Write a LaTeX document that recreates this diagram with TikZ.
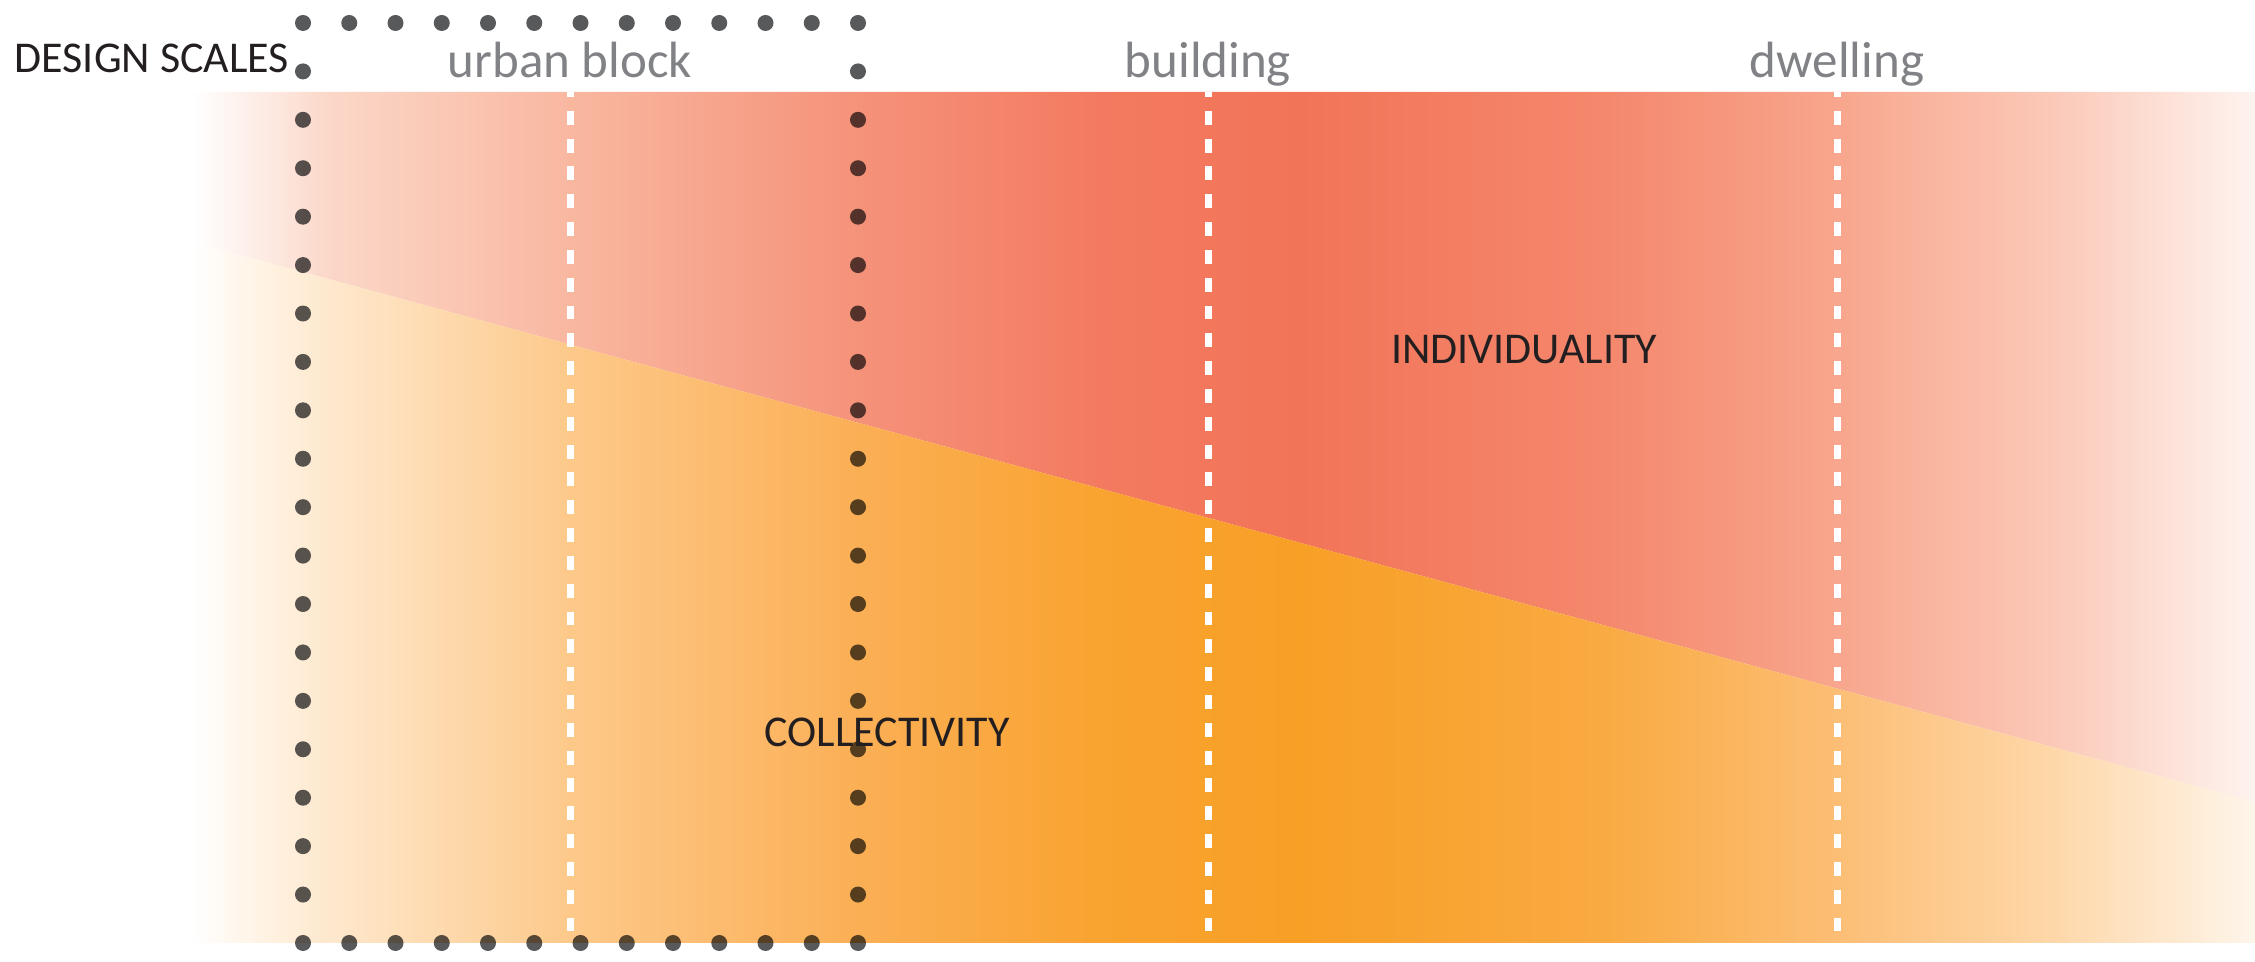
\documentclass[tikz,border=0pt]{standalone}
\usepackage{fontspec}
\setmainfont{Carlito}
\usepackage{tikz}

\definecolor{scalegray}{RGB}{128,130,133}
\definecolor{inkblack}{RGB}{35,31,32}
\definecolor{beadgray}{RGB}{88,89,91}

\definecolor{indA}{RGB}{253,236,229}
\definecolor{indB}{RGB}{251,215,200}
\definecolor{indC}{RGB}{249,183,160}
\definecolor{indD}{RGB}{245,146,122}
\definecolor{indE}{RGB}{243,122,96}
\definecolor{indF}{RGB}{242,116,88}
\definecolor{indG}{RGB}{244,135,108}
\definecolor{indH}{RGB}{248,166,141}
\definecolor{indI}{RGB}{251,200,183}
\definecolor{indJ}{RGB}{254,243,239}

\definecolor{colA}{RGB}{255,243,228}
\definecolor{colB}{RGB}{254,232,205}
\definecolor{colC}{RGB}{253,201,138}
\definecolor{colD}{RGB}{251,175,85}
\definecolor{colE}{RGB}{249,163,48}
\definecolor{colF}{RGB}{248,159,38}
\definecolor{colG}{RGB}{249,170,65}
\definecolor{colH}{RGB}{252,190,117}
\definecolor{colI}{RGB}{254,215,168}
\definecolor{colJ}{RGB}{254,245,234}

\pgfdeclarehorizontalshading{individualfade}{100bp}{color(0bp)=(white); color(25bp)=(white);
  color(26.65bp)=(indA); color(28.34bp)=(indB); color(34.16bp)=(indC); color(41.14bp)=(indD);
  color(47.01bp)=(indE); color(51.85bp)=(indF); color(59.12bp)=(indG); color(64.87bp)=(indH);
  color(70.03bp)=(indI); color(75bp)=(indJ); color(100bp)=(indJ)}
\pgfdeclarehorizontalshading{collectivefade}{100bp}{color(0bp)=(white); color(25bp)=(white);
  color(26.65bp)=(colA); color(28.34bp)=(colB); color(34.16bp)=(colC); color(41.14bp)=(colD);
  color(47.01bp)=(colE); color(51.85bp)=(colF); color(59.12bp)=(colG); color(64.87bp)=(colH);
  color(70.03bp)=(colI); color(75bp)=(colJ); color(100bp)=(colJ)}

\tikzset{
  scale label/.style = {text=scalegray, inner sep=0pt, font=\fontsize{14.5}{17}\selectfont},
  theme label/.style = {text=inkblack, inner sep=0pt, font=\fontsize{12.5}{15}\selectfont},
  scale line/.style = {white, line width=0.07cm, dash pattern=on 0.139cm off 0.139cm, dash phase=0.09cm},
  bead/.style = {fill=beadgray},
}

\begin{document}
\begin{tikzpicture}[x=0.01cm, y=-0.01cm]
\useasboundingbox (0,0) rectangle (2255,962);
\shade[shading=individualfade] (192,92) -- (2255,92) -- (2255,802) -- (192,242) -- cycle;
\shade[shading=collectivefade] (192,242) -- (2255,802) -- (2255,943) -- (192,943) -- cycle;
\foreach \x in {570,1208,1837}
  \draw[scale line] (\x,92) -- (\x,943);
\begin{scope}[blend mode=multiply]
\foreach \i in {0,...,12} {
  \fill[bead] (303+46.25*\i,23) circle[radius=0.08cm];
  \fill[bead] (303+46.25*\i,943) circle[radius=0.08cm];
}
\foreach \j in {1,...,18} {
  \fill[bead] (303,23+48.42*\j) circle[radius=0.08cm];
  \fill[bead] (858,23+48.42*\j) circle[radius=0.08cm];
}
\end{scope}
\node[theme label, anchor=base west] (designscales) at (14,73) {DESIGN SCALES};
\node[scale label, anchor=base] (urbanblock) at (570,78) {urban block};
\node[scale label, anchor=base] (building) at (1208,78) {building};
\node[scale label, anchor=base] (dwelling) at (1837,78) {dwelling};
\node[theme label, anchor=base] (individuality) at (1524,364) {INDIVIDUALITY};
\node[theme label, anchor=base] (collectivity) at (887,747) {COLLECTIVITY};
\end{tikzpicture}
\end{document}
